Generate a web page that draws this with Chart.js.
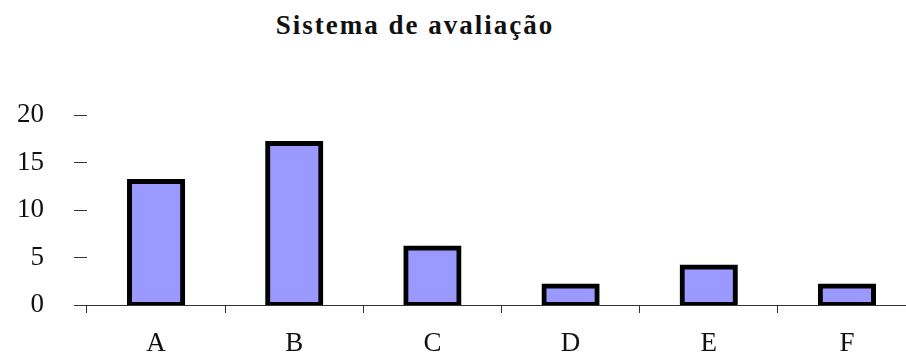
<!DOCTYPE html>
<html>
<head>
<meta charset="utf-8">
<script src="https://cdn.jsdelivr.net/npm/chart.js@4/dist/chart.umd.min.js"></script>
<style>
  html, body { margin: 0; padding: 0; background: #fff; overflow: hidden; }
  body { width: 906px; height: 356px; position: relative; }
  #title {
    position: absolute; left: 0; top: 10px; width: 830px; text-align: center;
    font: bold 27px "Liberation Serif", "Times New Roman", serif;
    letter-spacing: 2px; color: #111; white-space: nowrap;
  }
  #wrap { position: absolute; left: 0; top: 0; width: 920px; height: 356px; }
</style>
</head>
<body>
<div id="title">Sistema de avaliação</div>
<div id="wrap"><canvas id="c"></canvas></div>
<script>
const chartTitle = 'Sistema de avaliação';
const categories = ['A', 'B', 'C', 'D', 'E', 'F'];
const counts = [13, 17, 6, 2, 4, 2];
const yTicks = [0, 5, 10, 15, 20];

document.getElementById('title').textContent = chartTitle;

const serif = '"Liberation Serif", "Times New Roman", serif';
const axisColor = '#333';

new Chart(document.getElementById('c'), {
  type: 'bar',
  data: {
    labels: categories,
    datasets: [{
      data: counts,
      backgroundColor: '#9999ff',
      borderColor: '#000',
      borderWidth: 5,
      borderSkipped: false,
      inflateAmount: 2.5,
      barPercentage: 0.385,
      categoryPercentage: 1
    }]
  },
  options: {
    responsive: true,
    maintainAspectRatio: false,
    animation: false,
    layout: { padding: { top: 115, right: 4, left: 0, bottom: 0 } },
    plugins: { legend: { display: false }, tooltip: { enabled: false }, title: { display: false } },
    scales: {
      x: {
        grid: { offset: true, drawOnChartArea: false, drawTicks: true, tickLength: 8, color: axisColor, lineWidth: 1 },
        border: { display: true, color: axisColor, width: 1 },
        ticks: { color: '#111', font: { family: serif, size: 27 }, padding: 15, maxRotation: 0 },
        afterFit: s => { s.height = 51; }
      },
      y: {
        min: 0, max: 20,
        afterBuildTicks: s => { s.ticks = yTicks.map(v => ({ value: v })); },
        grid: { drawOnChartArea: false, drawTicks: true, tickLength: 13, color: axisColor, lineWidth: 1 },
        border: { display: false },
        ticks: { color: '#111', font: { family: serif, size: 27 }, padding: 30 },
        afterFit: s => { s.width = 87; }
      }
    }
  }
});
</script>
</body>
</html>
